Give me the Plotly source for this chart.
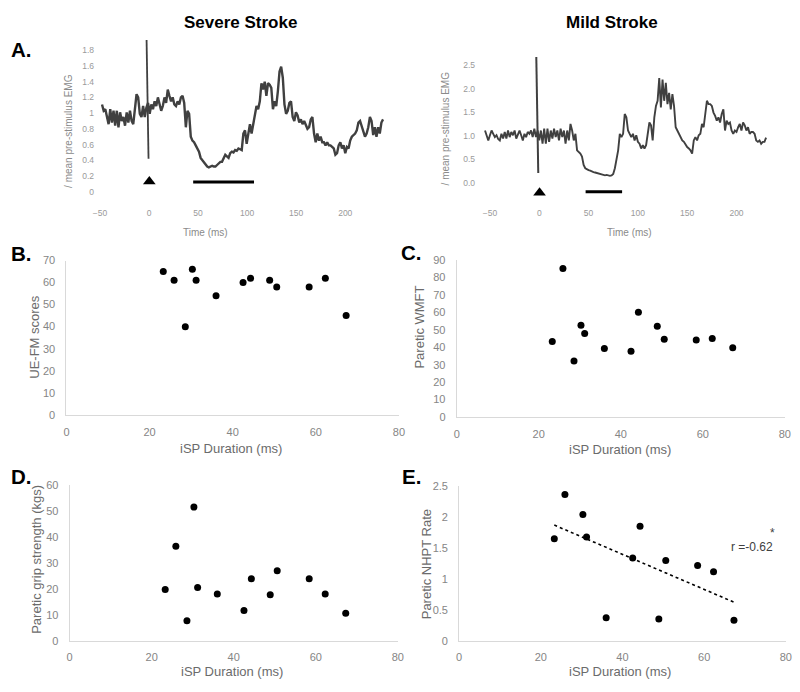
import numpy as np
import plotly.graph_objects as go

W, H = 800, 692
FONT = "Liberation Sans, Arial, sans-serif"

# ---------------- Panel A data (rectified EMG / mean pre-stimulus EMG) ----------------
severe_t0, severe_dt = -47.9, 1.675
severe_emg = [
    1.11, 1.03, 1.05, 0.97, 0.86, 1.05, 0.88, 1.03, 0.84, 1.03,
    0.82, 1.01, 0.90, 0.95, 0.84, 1.01, 0.88, 1.03, 0.90, 0.86,
    1.03, 1.24, 1.20, 0.99, 0.95, 1.09, 0.95, 1.07, 1.13, 0.99,
    1.11, 1.05, 1.15, 1.09, 1.20, 1.11, 1.03, 1.09, 1.20, 1.13,
    1.30, 1.22, 1.15, 1.20, 1.11, 1.09, 1.15, 1.11, 1.20, 1.22,
    1.13, 0.82, 1.03, 0.99, 0.70, 0.65, 0.63, 0.59, 0.55, 0.51,
    0.43, 0.40, 0.38, 0.34, 0.32, 0.31, 0.32, 0.33, 0.32, 0.32,
    0.34, 0.36, 0.38, 0.38,
    0.42, 0.47, 0.45, 0.43, 0.49, 0.51, 0.50, 0.53, 0.52, 0.55,
    0.54, 0.53, 0.74, 0.78, 0.61, 0.76, 0.86, 0.74, 0.86, 0.99,
    1.09, 1.05, 1.15, 1.38, 1.30, 1.40, 1.22, 1.38, 1.36, 1.32,
    1.05, 1.15, 1.09, 1.28, 1.53, 1.59, 1.45, 1.11, 0.99, 1.03,
    1.13, 1.15, 0.95, 0.90, 1.01, 0.97, 0.88, 0.92, 0.86, 0.90,
    0.84, 0.80, 0.82, 0.92, 0.95, 0.74, 0.63, 0.74, 0.65, 0.70,
    0.63, 0.63, 0.59, 0.63, 0.59, 0.59, 0.57, 0.55, 0.47, 0.49,
    0.59, 0.63, 0.55, 0.59, 0.49, 0.57, 0.55, 0.65, 0.70, 0.72,
    0.74, 0.78, 0.88, 0.90, 0.84, 0.76, 0.70, 0.74, 0.82, 0.95,
    0.90, 0.72, 0.82, 0.70, 0.82, 0.74, 0.88, 0.92,
]
severe_artifact_t = [-2.5, -0.5]
severe_artifact_v = [1.93, 0.42]
severe_marker_t, severe_marker_v = [0.3], [0.13]
severe_isp_t = [45, 107]
severe_isp_v = [0.125, 0.125]

mild_t0, mild_dt = -55.0, 1.6667
mild_emg = [
    1.11, 1.01, 0.90, 1.01, 1.11, 1.04, 0.97, 1.01, 0.93, 0.90,
    1.04, 0.94, 1.08, 0.94, 1.11, 0.97, 1.08, 1.01, 1.11, 0.94,
    1.04, 1.11, 1.01, 0.90, 1.04, 0.97, 1.08, 1.04, 1.11, 0.97,
    1.15, 0.97, 1.11, 0.90, 1.11, 0.83, 1.15, 0.83, 1.15, 0.87,
    1.11, 0.94, 1.15, 0.97, 1.11, 0.90, 1.15, 0.97, 1.11, 0.83,
    1.11, 0.90, 1.25, 1.11, 0.90, 1.04, 0.69, 0.66, 0.62, 0.56,
    0.38, 0.31, 0.28, 0.27, 0.26, 0.24, 0.23, 0.22, 0.21, 0.20,
    0.19, 0.18, 0.17, 0.16,
    0.17, 0.16, 0.15, 0.16, 0.19, 0.31, 0.49, 0.69, 1.04, 0.97,
    1.04, 1.46, 1.39, 1.11, 1.04, 0.97, 1.04, 0.90, 1.01, 0.87,
    0.83, 0.73, 0.80, 0.73, 0.80, 1.04, 1.28, 1.22, 0.90, 1.39,
    1.63, 1.74, 2.22, 1.60, 2.19, 1.74, 2.12, 1.67, 1.91, 1.56,
    1.88, 1.63, 1.18, 1.11, 1.04, 0.97, 0.90, 0.87, 0.80, 0.76,
    0.73, 0.69, 0.62, 0.90, 0.97, 0.90, 1.01, 1.04, 1.25, 1.18,
    1.46, 1.74, 1.67, 1.67, 1.63, 1.49, 1.42, 1.32, 1.39, 1.28,
    1.46, 1.56, 1.11, 1.32, 1.25, 1.28, 1.11, 1.04, 1.11, 1.08,
    1.18, 1.25, 1.11, 1.28, 1.22, 1.11, 1.18, 1.04, 1.08, 1.08,
    1.04, 0.90, 0.87, 0.90, 0.83, 0.87, 0.87, 0.96,
]
mild_artifact_t = [-3.0, -1.0]
mild_artifact_v = [2.67, 0.21]
mild_marker_t, mild_marker_v = [0.3], [-0.21]
mild_isp_t = [47, 84]
mild_isp_v = [-0.19, -0.19]

severe_ticks = [0, 0.2, 0.4, 0.6, 0.8, 1, 1.2, 1.4, 1.6, 1.8]
mild_ticks = [0.0, 0.5, 1.0, 1.5, 2.0, 2.5]
time_ticks = [-50, 0, 50, 100, 150, 200]

# ---------------- Panels B-E data ----------------
isp_duration = [23.3, 25.9, 28.6, 30.3, 31.2, 36.0, 42.5, 44.3, 48.9, 50.6, 58.4, 62.3, 67.3]
ue_fm = [65, 61, 40, 66, 61, 54, 60, 62, 61, 58, 58, 62, 45]
wmft = [43.2, 85.0, 32.1, 52.5, 47.8, 39.2, 37.7, 60.0, 52.0, 44.5, 44.1, 45.0, 39.6]
grip = [19.9, 36.5, 7.9, 51.5, 20.7, 18.2, 11.9, 24.0, 17.9, 27.1, 24.0, 18.2, 10.8]
nhpt = [1.65, 2.36, None, 2.04, 1.68, 0.38, 1.34, 1.85, 0.36, 1.30, 1.22, 1.12, 0.34]

severe_t = severe_t0 + severe_dt * np.arange(len(severe_emg))
mild_t = mild_t0 + mild_dt * np.arange(len(mild_emg))

# trendline for E
ex = np.array([x for x, y in zip(isp_duration, nhpt) if y is not None])
ey = np.array([y for y in nhpt if y is not None])
slope, intercept = np.polyfit(ex, ey, 1)
fit_x = np.array([ex.min(), ex.max()])
fit_y = slope * fit_x + intercept

TRACE = "#404040"
fig = go.Figure()


def add_line(x, y, ax, color=TRACE, width=2.2, dash=None):
    fig.add_trace(go.Scatter(x=x, y=y, mode="lines", xaxis="x" + ax, yaxis="y" + ax,
                             line=dict(color=color, width=width, dash=dash),
                             hoverinfo="skip", showlegend=False))


# Panel A severe
add_line(severe_t, severe_emg, "", width=2.4)
add_line(severe_artifact_t, severe_artifact_v, "", width=1.8)
add_line(severe_isp_t, severe_isp_v, "", color="black", width=3)
fig.add_trace(go.Scatter(x=severe_marker_t, y=severe_marker_v, mode="markers", xaxis="x", yaxis="y",
                         marker=dict(symbol="triangle-up", size=11, color="black"), showlegend=False))
# Panel A mild
add_line(mild_t, mild_emg, "2", width=1.9)
add_line(mild_artifact_t, mild_artifact_v, "2", width=2)
add_line(mild_isp_t, mild_isp_v, "2", color="black", width=3)
fig.add_trace(go.Scatter(x=mild_marker_t, y=mild_marker_v, mode="markers", xaxis="x2", yaxis="y2",
                         marker=dict(symbol="triangle-up", size=11, color="black"), showlegend=False))

for ax, ys in (("3", ue_fm), ("4", wmft), ("5", grip), ("6", nhpt)):
    fig.add_trace(go.Scatter(x=isp_duration, y=ys, mode="markers", xaxis="x" + ax, yaxis="y" + ax,
                             marker=dict(size=7, color="black"), showlegend=False))
add_line(fit_x, fit_y, "6", color="black", width=1.6, dash="dot")


def dx(l, r):
    return [l / W, r / W]


def dy(top, bottom):
    return [1 - bottom / H, 1 - top / H]


tick_a = dict(family=FONT, size=8.5, color="#9a9a9a")
tick_s = dict(family=FONT, size=11, color="#858585")

layout = dict(
    width=W, height=H, margin=dict(l=0, r=0, t=0, b=0),
    paper_bgcolor="white", plot_bgcolor="white", showlegend=False,
    font=dict(family=FONT),
)

# Panel A axes
layout["xaxis"] = dict(domain=dx(94.3, 384.8), range=[-52, 240], tickvals=time_ticks,
                       showgrid=False, zeroline=False, showline=False, ticks="",
                       tickfont=tick_a, anchor="y", ticklabelstandoff=4)
layout["yaxis"] = dict(domain=dy(29, 200.2), range=[-0.14, 2.0], tickvals=severe_ticks,
                       showgrid=False, zeroline=False, showline=False, ticks="",
                       tickfont=tick_a, anchor="x", ticklabelstandoff=3)
layout["xaxis2"] = dict(domain=dx(480.7, 773.7), range=[-61, 232], tickvals=time_ticks,
                        showgrid=False, zeroline=False, showline=False, ticks="",
                        tickfont=tick_a, anchor="y2", ticklabelstandoff=4)
layout["yaxis2"] = dict(domain=dy(49.4, 200.2), range=[-0.42, 2.72], tickvals=mild_ticks,
                        tickformat=".1f", showgrid=False, zeroline=False, showline=False, ticks="",
                        tickfont=tick_a, anchor="x2", ticklabelstandoff=3)

scatter_axes = {
    "3": (dx(62.3, 399.4), dy(259, 416), [0, 70], 10, 7),
    "4": (dx(458, 790.7), dy(258.3, 418.3), [0, 90], 10, 7),
    "5": (dx(65.5, 398.3), dy(487.3, 646.7), [0, 60], 10, 5),
    "6": (dx(460.5, 791.7), dy(488.3, 646.7), [0, 2.5], 0.5, 5),
}
for ax, (xd, yd, yr, ydt, xstand) in scatter_axes.items():
    layout["xaxis" + ax] = dict(domain=xd, range=[0, 80], dtick=20, tick0=0,
                                showgrid=False, zeroline=False, showline=True, linecolor="#d9d9d9",
                                linewidth=1, ticks="", tickfont=tick_s, anchor="y" + ax,
                                ticklabelstandoff=xstand)
    layout["yaxis" + ax] = dict(domain=yd, range=yr, dtick=ydt, tick0=0,
                                showgrid=False, zeroline=False, showline=True, linecolor="#d9d9d9",
                                linewidth=1, ticks="", tickfont=tick_s, anchor="x" + ax,
                                ticklabelstandoff=8)

ann = []


def text(x, y, s, size, color="#222", bold=False, angle=0, xanchor="center"):
    ann.append(dict(x=x / W, y=1 - y / H, xref="paper", yref="paper", text=f"<b>{s}</b>" if bold else s,
                    showarrow=False, textangle=angle, xanchor=xanchor, yanchor="middle",
                    font=dict(family=FONT, size=size, color=color)))


# Titles & panel letters
text(239, 17, "Severe Stroke", 17, color="black", bold=True)
text(615, 17, "Mild Stroke", 17, color="black", bold=True)
for lbl, x, y in (("A.", 17, 44), ("B.", 17, 252), ("C.", 412, 251), ("D.", 17, 479), ("E.", 412, 479)):
    text(x, y, lbl, 20.5, color="black", bold=True)

# Panel A axis titles
text(65, 127, "/ mean pre-stimulus EMG", 10, color="#8a8a8a", angle=-90)
text(446.7, 125, "/ mean pre-stimulus EMG", 10, color="#8a8a8a", angle=-90)
text(203, 230, "Time (ms)", 10, color="#8a8a8a")
text(633, 230, "Time (ms)", 10, color="#8a8a8a")

# Scatter axis titles
text(30, 337, "UE-FM scores", 13, color="#6b6b6b", angle=-90)
text(420, 327, "Paretic WMFT", 13, color="#6b6b6b", angle=-90)
text(32, 563, "Paretic grip strength (kgs)", 13, color="#6b6b6b", angle=-90)
text(427, 568, "Paretic NHPT Rate", 13, color="#6b6b6b", angle=-90)
for cx, cy in ((229, 450), (624, 451), (230, 677), (624, 677)):
    text(cx, cy, "iSP Duration (ms)", 13, color="#6b6b6b")

# correlation annotation
text(757, 551, "r =-0.62", 12, color="#404040")
text(778, 536, "*", 12, color="#404040")

layout["annotations"] = ann
fig.update_layout(**layout)

page_fix = (
    "var s=document.createElement('style');"
    "s.innerHTML='html,body{margin:0!important;padding:0!important;overflow:hidden!important;"
    "width:800px;height:692px;}';"
    "document.head.appendChild(s);"
    "var gd=document.getElementById('{plot_id}');"
    "gd.style.position='fixed';gd.style.left='0px';gd.style.top='0px';"
)
fig.write_html("out.html", config={"displayModeBar": False, "staticPlot": True}, post_script=page_fix)
